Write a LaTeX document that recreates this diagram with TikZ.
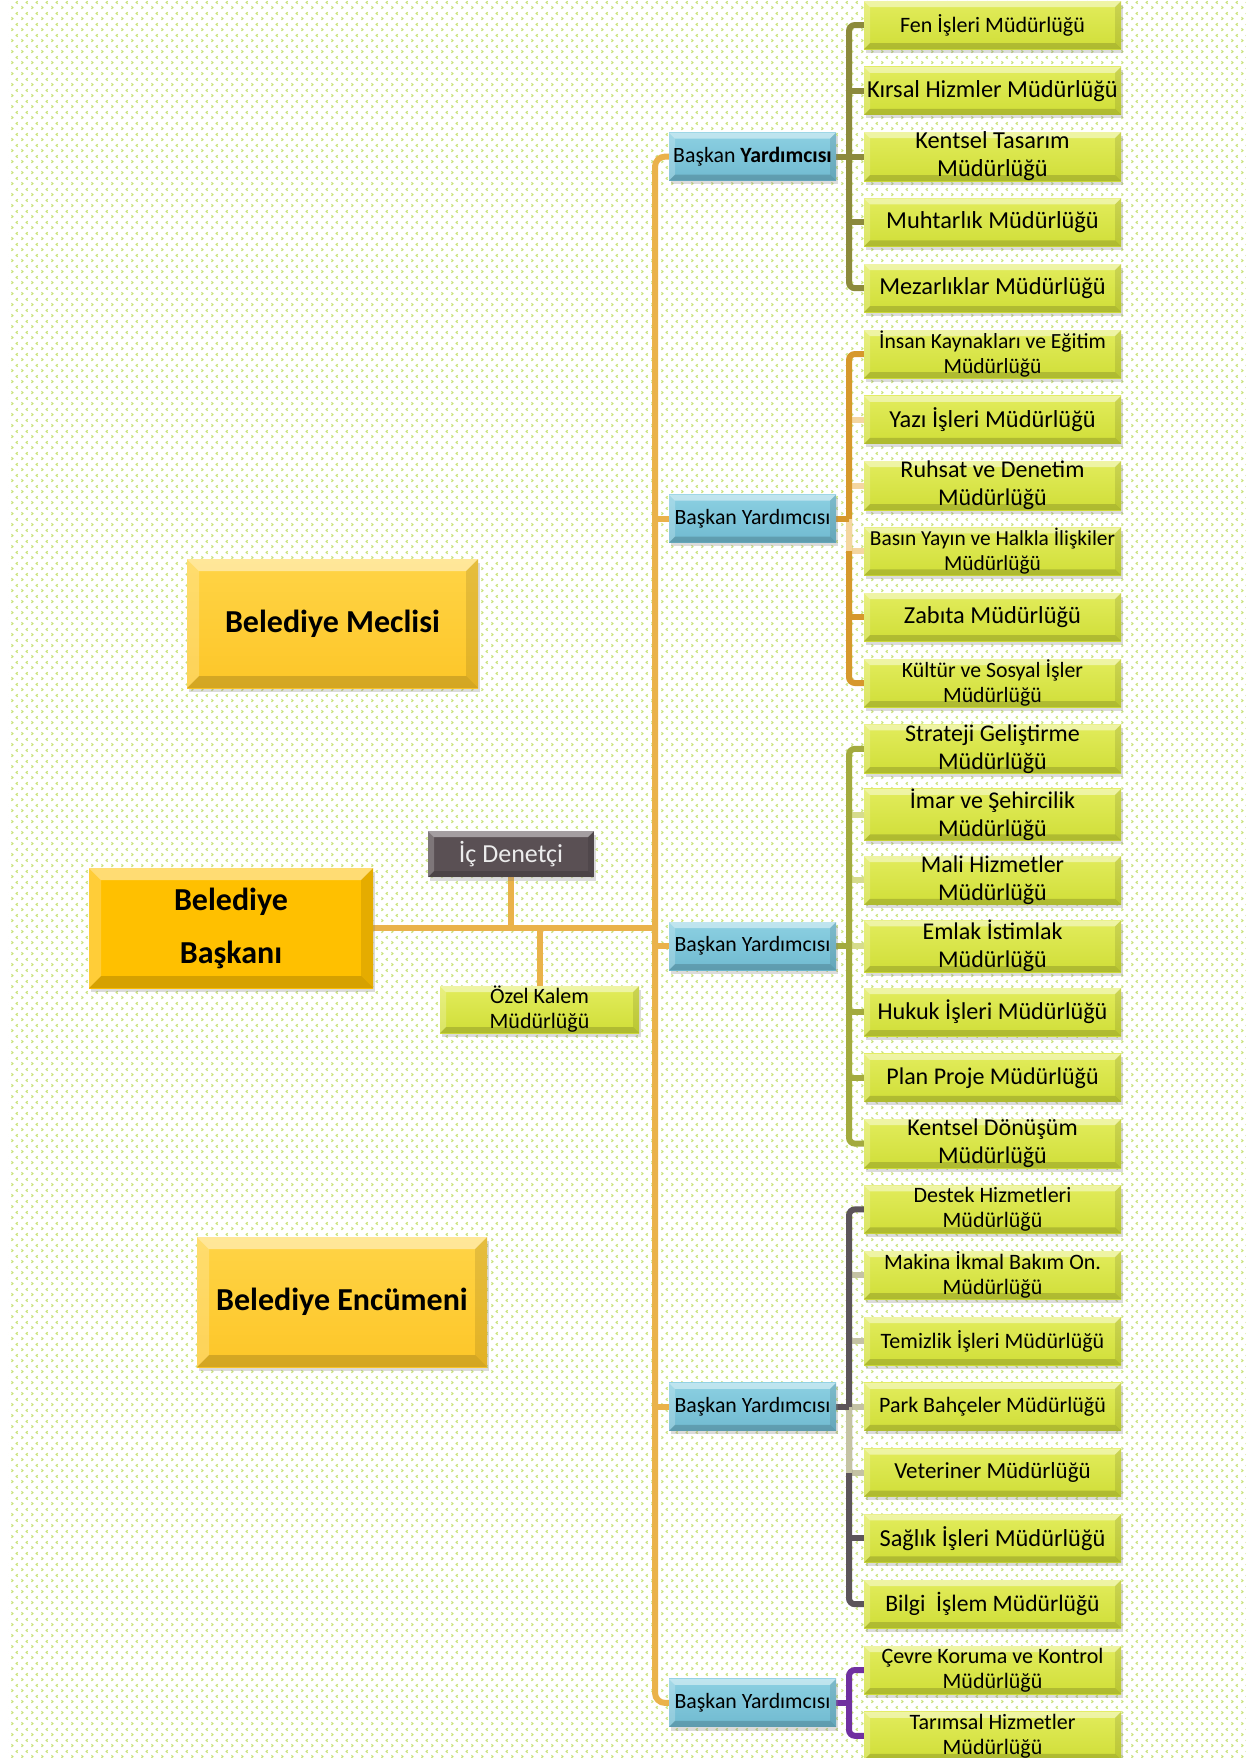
\documentclass[tikz,border=0pt]{standalone}
\usepackage{fontspec}
\setmainfont{Carlito}
\usetikzlibrary{shadows,patterns}
\pgfdeclarelayer{bg}\pgfdeclarelayer{lines}\pgfsetlayers{bg,lines,main}
\pgfdeclarepatternformonly{chevs}{\pgfqpoint{0pt}{0pt}}{\pgfqpoint{5pt}{5.5pt}}{\pgfqpoint{5pt}{5.5pt}}{%
  \pgfsetlinewidth{0.6pt}%
  \pgfpathmoveto{\pgfqpoint{0.8pt}{0.6pt}}%
  \pgfpathlineto{\pgfqpoint{1.6pt}{1.3pt}}%
  \pgfpathlineto{\pgfqpoint{0.8pt}{2.0pt}}%
  \pgfusepath{stroke}%
  \pgfpathmoveto{\pgfqpoint{4.2pt}{3.4pt}}%
  \pgfpathlineto{\pgfqpoint{3.4pt}{4.1pt}}%
  \pgfpathlineto{\pgfqpoint{4.2pt}{4.8pt}}%
  \pgfusepath{stroke}}
\definecolor{patc}{RGB}{200,226,120}
\definecolor{deptT}{RGB}{226,236,92}
\definecolor{deptB}{RGB}{208,222,56}
\definecolor{viceT}{RGB}{140,208,226}
\definecolor{viceB}{RGB}{112,186,208}
\definecolor{baskc}{RGB}{255,192,0}
\definecolor{goldT}{RGB}{255,212,70}
\definecolor{goldB}{RGB}{253,198,40}
\definecolor{icdc}{RGB}{90,80,84}
\definecolor{mainl}{RGB}{234,178,74}
\definecolor{brA}{RGB}{140,138,60}
\definecolor{brB}{RGB}{214,152,44}
\definecolor{brC}{RGB}{163,170,62}
\definecolor{brD}{RGB}{92,84,90}
\definecolor{brE}{RGB}{112,48,160}
\definecolor{paleB}{RGB}{244,214,160}
\definecolor{paleC}{RGB}{214,220,140}
\definecolor{paleD}{RGB}{196,194,164}
\tikzset{
  bevel/.style={path picture={
    \coordinate (bvsw) at (path picture bounding box.south west);
    \coordinate (bvne) at (path picture bounding box.north east);
    \coordinate (bvnw) at (path picture bounding box.north west);
    \coordinate (bvse) at (path picture bounding box.south east);
    \fill[white,opacity=.45] (bvnw) -- (bvne) -- ([shift={(-#1,-#1)}]bvne) -- ([shift={(#1,-#1)}]bvnw) -- cycle;
    \fill[white,opacity=.22] (bvsw) -- (bvnw) -- ([shift={(#1,-#1)}]bvnw) -- ([shift={(#1,#1)}]bvsw) -- cycle;
    \fill[black,opacity=.16] (bvsw) -- (bvse) -- ([shift={(-#1,#1)}]bvse) -- ([shift={(#1,#1)}]bvsw) -- cycle;
    \fill[black,opacity=.10] (bvse) -- (bvne) -- ([shift={(-#1,-#1)}]bvne) -- ([shift={(-#1,#1)}]bvse) -- cycle;
  }},
  boxbase/.style={rectangle, inner sep=0pt, outer sep=0pt, align=center, text=black,
    drop shadow={shadow xshift=0.8pt, shadow yshift=-1.8pt, opacity=.28}},
  dept/.style 2 args={boxbase, minimum width=128.5pt, minimum height=24pt,
    top color=deptT, bottom color=deptB, bevel=3pt, font=\fontsize{#1}{#2}\selectfont},
  vice/.style={boxbase, minimum width=83.5pt, minimum height=24pt,
    top color=viceT, bottom color=viceB, bevel=3pt, font=\fontsize{10.9}{13}\selectfont},
  big/.style={boxbase, top color=goldT, bottom color=goldB, bevel=6pt,
    font=\fontsize{16}{26.5}\selectfont\bfseries},
  mline/.style={line width=3pt, draw=mainl},
  brk/.style={line width=3pt, draw=#1},
}
\newcommand\dep[4]{\node[dept={#3}{#4}] (d#1) at (992.5,{25+65.8*(#1-1)}) {#2};}
\begin{document}
\begin{tikzpicture}[x=0.5pt,y=-0.5pt]
\useasboundingbox (0,0) rectangle (1246,1758);
\begin{pgfonlayer}{bg}
  \fill[white] (0,0) rectangle (1246,1758);
  \fill[pattern=chevs, pattern color=patc] (8,0) rectangle (1246,1758);
\end{pgfonlayer}

% left side
\node[big, minimum width=145.5pt, minimum height=64.5pt] (meclis) at (332.5,623.5) {Belediye Meclisi};
\node[big, minimum width=145pt, minimum height=65pt] (encumen) at (342,1302) {Belediye Encümeni};
\node[big, top color=baskc, bottom color=baskc, minimum width=142pt, minimum height=60pt] (baskan) at (231,928) {Belediye\\Başkanı};
\node[boxbase, fill=icdc, bevel=3pt, minimum width=83pt, minimum height=23pt, text={rgb,255:red,236;green,236;blue,236},
  font=\fontsize{13}{15}\selectfont] (icd) at (511,854) {İç Denetçi};
\node[dept={11}{12.5}, minimum width=99.5pt, minimum height=23.5pt] (ozel) at (539.5,1009.5) {Özel Kalem\\Müdürlüğü};

% vice presidents
\node[vice] (by1) at (752.5,{25+65.8*2}) {Başkan \textbf{Yardımcısı}};
\node[vice] (by2) at (752.5,{25+65.8*7.5}) {Başkan Yardımcısı};
\node[vice] (by3) at (752.5,{25+65.8*14}) {Başkan Yardımcısı};
\node[vice] (by4) at (752.5,{25+65.8*21}) {Başkan Yardımcısı};
\node[vice] (by5) at (752.5,{25+65.8*25.5}) {Başkan Yardımcısı};

% departments
\dep{1}{Fen İşleri Müdürlüğü}{11}{13}
\dep{2}{Kırsal Hizmler Müdürlüğü}{12.2}{14}
\dep{3}{Kentsel Tasarım\\Müdürlüğü}{12.2}{14}
\dep{4}{Muhtarlık Müdürlüğü}{12.2}{14}
\dep{5}{Mezarlıklar Müdürlüğü}{12.2}{14}
\dep{6}{İnsan Kaynakları ve Eğitim\\Müdürlüğü}{10.8}{12.5}
\dep{7}{Yazı İşleri Müdürlüğü}{12.2}{14}
\dep{8}{Ruhsat ve Denetim\\Müdürlüğü}{12}{14}
\dep{9}{Basın Yayın ve Halkla İlişkiler\\Müdürlüğü}{10.7}{12.5}
\dep{10}{Zabıta Müdürlüğü}{12.2}{14}
\dep{11}{Kültür ve Sosyal İşler\\Müdürlüğü}{10.9}{12.5}
\dep{12}{Strateji Geliştirme\\Müdürlüğü}{12}{14}
\dep{13}{İmar ve Şehircilik\\Müdürlüğü}{12}{14}
\dep{14}{Mali Hizmetler\\Müdürlüğü}{12}{14}
\dep{15}{Emlak İstimlak\\Müdürlüğü}{12}{14}
\dep{16}{Hukuk İşleri Müdürlüğü}{12.1}{14}
\dep{17}{Plan Proje Müdürlüğü}{12}{14}
\dep{18}{Kentsel Dönüşüm\\Müdürlüğü}{12}{14}
\dep{19}{Destek Hizmetleri\\Müdürlüğü}{11}{12.5}
\dep{20}{Makina İkmal Bakım On.\\Müdürlüğü}{11}{12.5}
\dep{21}{Temizlik İşleri Müdürlüğü}{11}{13}
\dep{22}{Park Bahçeler Müdürlüğü}{11}{13}
\dep{23}{Veteriner Müdürlüğü}{11.5}{13}
\dep{24}{Sağlık İşleri Müdürlüğü}{12.2}{14}
\dep{25}{Bilgi\ \ İşlem Müdürlüğü}{11.8}{14}
\dep{26}{Çevre Koruma ve Kontrol\\Müdürlüğü}{11}{12.5}
\dep{27}{Tarımsal Hizmetler\\Müdürlüğü}{11}{12.5}

\coordinate (mtop) at (655,{25+65.8*2});
\coordinate (mbot) at (655,{25+65.8*25.5});
\coordinate (bx) at (849,0);

\begin{pgfonlayer}{lines}
  % main trunk
  \draw[mline, rounded corners=5pt] (by1.west) -- (mtop) -- (mbot) -- (by5.west);
  \foreach \b in {by2,by3,by4} \draw[mline] (\b.west) -- (\b.west -| mtop);
  \draw[mline] (baskan.east) -- (baskan.east -| mtop);
  \draw[mline] (icd.south) -- (icd.south |- baskan.east);
  \draw[mline] (ozel.north) -- (ozel.north |- baskan.east);

  % bracket 1
  \draw[brk=brA] (by1.east) -- (by1.east -| bx);
  \draw[brk=brA, rounded corners=3pt] (d1.west) -- (d1.west -| bx) -- (d5.west -| bx) -- (d5.west);
  \foreach \i in {2,3,4} \draw[brk=brA] (d\i.west -| bx) -- (d\i.west);

  % bracket 2
  \foreach \i in {7,8,9} \draw[brk=paleB] (d\i.west -| bx) -- (d\i.west);
  \draw[brk=brB, rounded corners=3pt] (d6.west) -- (d6.west -| bx) -- (d11.west -| bx) -- (d11.west);
  \draw[brk=paleB] (by2.east -| bx) -- (d9.west -| bx);
  \draw[brk=brB] (by2.east) -- (by2.east -| bx);
  \foreach \i in {10} \draw[brk=brB] (d\i.west -| bx) -- (d\i.west);

  % bracket 3
  \foreach \i in {13,14,15} \draw[brk=paleC] (d\i.west -| bx) -- (d\i.west);
  \draw[brk=brC, rounded corners=3pt] (d12.west) -- (d12.west -| bx) -- (d18.west -| bx) -- (d18.west);
  \draw[brk=brC] (by3.east) -- (by3.east -| bx);
  \foreach \i in {16,17} \draw[brk=brC] (d\i.west -| bx) -- (d\i.west);

  % bracket 4
  \foreach \i in {20,21,22,23} \draw[brk=paleD] (d\i.west -| bx) -- (d\i.west);
  \draw[brk=brD, rounded corners=3pt] (d19.west) -- (d19.west -| bx) -- (d25.west -| bx) -- (d25.west);
  \draw[brk=paleD] (by4.east -| bx) -- (d23.west -| bx);
  \draw[brk=brD] (by4.east) -- (by4.east -| bx);
  \draw[brk=brD] (d24.west -| bx) -- (d24.west);

  % bracket 5
  \draw[brk=brE] (by5.east) -- (by5.east -| bx);
  \draw[brk=brE, rounded corners=3pt] (d26.west) -- (d26.west -| bx) -- (d27.west -| bx) -- (d27.west);
\end{pgfonlayer}
\end{tikzpicture}
\end{document}
